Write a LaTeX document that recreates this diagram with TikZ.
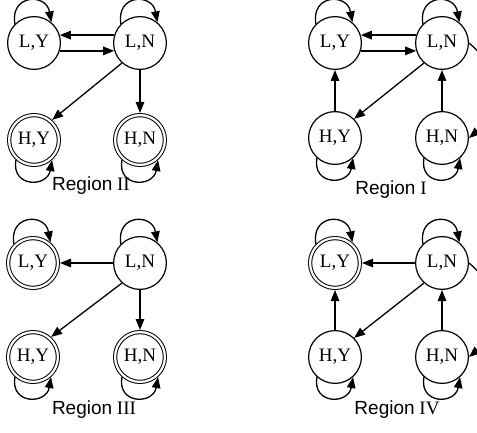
\documentclass[tikz,border=0pt]{standalone}
\usepackage{fontspec}
\setmainfont{Liberation Serif}
\newfontfamily\labelsans{Liberation Sans}
\usetikzlibrary{arrows.meta}

\tikzset{
  state/.style={circle, draw, line width=1.2pt, minimum size=52.8pt,
                inner sep=0pt, font=\fontsize{19}{22}\selectfont},
  final/.style={state, double, line width=1pt, double distance=2.2pt,
                minimum size=49.8pt, outer sep=2.1pt},
  trans/.style={line width=1.3pt, -{Triangle[length=11pt,width=8.5pt]}},
  regionlabel/.style={font=\fontsize{19}{22}\selectfont, inner sep=0pt},
}

% loop above a state and loop below a state
\newcommand{\looptop}[1]{\draw[trans] (#1.135) .. controls +(100:30pt) and +(100:30pt) .. (#1.50);}
\newcommand{\loopbot}[1]{\draw[trans] (#1.228) .. controls +(-100:28pt) and +(-100:28pt) .. (#1.312);}

\begin{document}
\begin{tikzpicture}[x=1pt,y=1pt]
\useasboundingbox (0,0) rectangle (477,432);
\clip (0,0) rectangle (477,432);

% ---------------- Region II (top left) ----------------
\node[state] (a-LY) at (34,389) {L,Y};
\node[state] (a-LN) at (140,389) {L,N};
\node[final] (a-HY) at (34,292) {H,Y};
\node[final] (a-HN) at (140,292) {H,N};
\looptop{a-LY}
\looptop{a-LN}
\loopbot{a-HY}
\loopbot{a-HN}
\draw[trans] (a-LN.163) -- (a-LY.17);
\draw[trans] (a-LY.-17) -- (a-LN.197);
\draw[trans] (a-LN.228) -- (a-HY.48);
\draw[trans] (a-LN.south) -- (a-HN.north);
\node[regionlabel] (a-lbl) at (91,246) {{\labelsans Region} II};

% ---------------- Region I (top right) ----------------
\node[state] (b-LY) at (335,389) {L,Y};
\node[state] (b-LN) at (442,389) {L,N};
\node[state] (b-HY) at (335,294) {H,Y};
\node[state] (b-HN) at (442,294) {H,N};
\looptop{b-LY}
\looptop{b-LN}
\loopbot{b-HY}
\loopbot{b-HN}
\draw[trans] (b-LN.163) -- (b-LY.17);
\draw[trans] (b-LY.-17) -- (b-LN.197);
\draw[trans] (b-LN.228) -- (b-HY.45);
\draw[trans] (b-HY.north) -- (b-LY.south);
\draw[trans] (b-HN.north) -- (b-LN.south);
\draw[trans] (b-LN.east) .. controls +(-40:45pt) and +(40:45pt) .. (b-HN.east);
\node[regionlabel] (b-lbl) at (391,242) {{\labelsans Region} I};

% ---------------- Region III (bottom left) ----------------
\node[final] (c-LY) at (33,169) {L,Y};
\node[state] (c-LN) at (140,169) {L,N};
\node[final] (c-HY) at (33,75) {H,Y};
\node[final] (c-HN) at (140,75) {H,N};
\looptop{c-LY}
\looptop{c-LN}
\loopbot{c-HY}
\loopbot{c-HN}
\draw[trans] (c-LN.west) -- (c-LY.east);
\draw[trans] (c-LN.228) -- (c-HY.48);
\draw[trans] (c-LN.south) -- (c-HN.north);
\node[regionlabel] (c-lbl) at (94,22) {{\labelsans Region} III};

% ---------------- Region IV (bottom right) ----------------
\node[final] (d-LY) at (335,169) {L,Y};
\node[state] (d-LN) at (442,169) {L,N};
\node[state] (d-HY) at (335,75) {H,Y};
\node[state] (d-HN) at (442,75) {H,N};
\looptop{d-LY}
\looptop{d-LN}
\loopbot{d-HY}
\loopbot{d-HN}
\draw[trans] (d-LN.west) -- (d-LY.east);
\draw[trans] (d-LN.228) -- (d-HY.45);
\draw[trans] (d-HY.north) -- (d-LY.south);
\draw[trans] (d-HN.north) -- (d-LN.south);
\draw[trans] (d-LN.east) .. controls +(-40:45pt) and +(40:45pt) .. (d-HN.east);
\node[regionlabel] (d-lbl) at (397,22) {{\labelsans Region} IV};
\end{tikzpicture}
\end{document}
